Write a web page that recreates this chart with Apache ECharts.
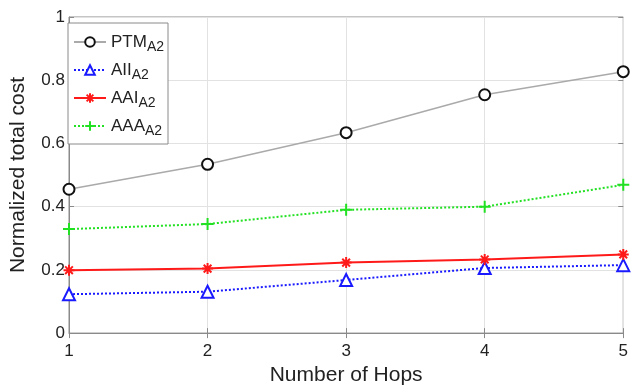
<!DOCTYPE html>
<html><head><meta charset="utf-8">
<script src="https://cdn.jsdelivr.net/npm/echarts@6/dist/echarts.min.js"></script>
<style>html,body{margin:0;padding:0;background:#fff}#c{width:631px;height:391px}</style>
</head><body><div id="c"></div>
<script>
const hops = [1, 2, 3, 4, 5];
const ptm = [0.455, 0.534, 0.634, 0.754, 0.827];
const aii = [0.123, 0.131, 0.168, 0.206, 0.215];
const aai = [0.199, 0.204, 0.223, 0.233, 0.249];
const aaa = [0.329, 0.345, 0.390, 0.400, 0.469];
const yTicks = [0, 0.2, 0.4, 0.6, 0.8, 1];
const names = { ptm: ['PTM', 'A2'], aii: ['AII', 'A2'], aai: ['AAI', 'A2'], aaa: ['AAA', 'A2'] };

const F = 'Liberation Sans, Arial, sans-serif';
const pair = arr => hops.map((h, i) => [h, arr[i]]);
const nm = k => names[k][0] + '_' + names[k][1];
const starPath = 'path://M0,-10L0,10M-10,0L10,0M-7,-7L7,7M-7,7L7,-7';
const plusPath = 'path://M0,-10L0,10M-10,0L10,0';

const chart = echarts.init(document.getElementById('c'), null, { renderer: 'canvas' });
chart.setOption({
  animation: false,
  backgroundColor: '#fff',
  grid: { left: 67, right: 5, top: 17, bottom: 54, show: true, borderColor: '#8a8a8a', borderWidth: 1 },
  legend: {
    orient: 'vertical', left: 68, top: 23,
    backgroundColor: '#fff', borderColor: '#8a8a8a', borderWidth: 1,
    padding: [7, 4, 6, 5], itemGap: 4, itemWidth: 32, itemHeight: 12,
    data: ['ptm', 'aii', 'aai', 'aaa'].map(nm),
    formatter: n => { const p = n.split('_'); return '{m|' + p[0] + '}{s|' + p[1] + '}'; },
    textStyle: {
      color: '#222', fontFamily: F,
      rich: {
        m: { fontSize: 17, fontFamily: F, color: '#222', lineHeight: 24, verticalAlign: 'middle' },
        s: { fontSize: 14, fontFamily: F, color: '#222', lineHeight: 14, padding: [10, 0, 0, 0] }
      }
    }
  },
  xAxis: [{
    type: 'value', min: 1, max: 5, interval: 1,
    name: 'Number of Hops', nameLocation: 'middle', nameGap: 31,
    nameTextStyle: { fontSize: 21, fontFamily: F, color: '#222' },
    axisLine: { lineStyle: { color: '#8a8a8a' } },
    axisTick: { inside: true, length: 5, lineStyle: { color: '#8a8a8a' } },
    axisLabel: { fontSize: 17, fontFamily: F, color: '#222', margin: 10 },
    splitLine: { show: true, lineStyle: { color: '#e2e2e2' } }
  }, {
    type: 'value', min: 1, max: 5, interval: 1, position: 'top',
    axisLine: { show: false }, axisLabel: { show: false },
    axisTick: { inside: true, length: 5, lineStyle: { color: '#8a8a8a' } },
    splitLine: { show: false }
  }],
  yAxis: [{
    type: 'value', min: 0, max: 1, interval: 0.2,
    name: 'Normalized total cost', nameLocation: 'middle', nameGap: 40,
    nameTextStyle: { fontSize: 21, fontFamily: F, color: '#222' },
    axisLine: { show: true, lineStyle: { color: '#8a8a8a' } },
    axisTick: { show: true, inside: true, length: 5, lineStyle: { color: '#8a8a8a' } },
    axisLabel: { fontSize: 17, fontFamily: F, color: '#222', margin: 4,
      formatter: v => { const t = yTicks.find(x => Math.abs(x - v) < 1e-9); return String(t === undefined ? v : t); } },
    splitLine: { show: true, lineStyle: { color: '#e2e2e2' } }
  }, {
    type: 'value', min: 0, max: 1, interval: 0.2, position: 'right',
    axisLine: { show: false }, axisLabel: { show: false },
    axisTick: { show: true, inside: true, length: 5, lineStyle: { color: '#8a8a8a' } },
    splitLine: { show: false }
  }],
  series: [
    { name: nm('ptm'), type: 'line', data: pair(ptm), clip: false,
      symbol: 'circle', symbolSize: 11,
      lineStyle: { color: '#aaaaaa', width: 1.5 },
      itemStyle: { color: '#fff', borderColor: '#111', borderWidth: 2 } },
    { name: nm('aii'), type: 'line', data: pair(aii), clip: false,
      symbol: 'triangle', symbolSize: 12,
      lineStyle: { color: '#1a1aff', width: 2, type: 'dotted' },
      itemStyle: { color: '#fff', borderColor: '#1a1aff', borderWidth: 2 } },
    { name: nm('aai'), type: 'line', data: pair(aai), clip: false,
      symbol: starPath, symbolSize: 11,
      lineStyle: { color: '#ff1a1a', width: 2 },
      itemStyle: { color: '#ff1a1a', borderColor: '#ff1a1a', borderWidth: 2 } },
    { name: nm('aaa'), type: 'line', data: pair(aaa), clip: false,
      symbol: plusPath, symbolSize: 12,
      lineStyle: { color: '#22e022', width: 2, type: 'dotted' },
      itemStyle: { color: '#22e022', borderColor: '#22e022', borderWidth: 2 } }
  ]
});
</script></body></html>
